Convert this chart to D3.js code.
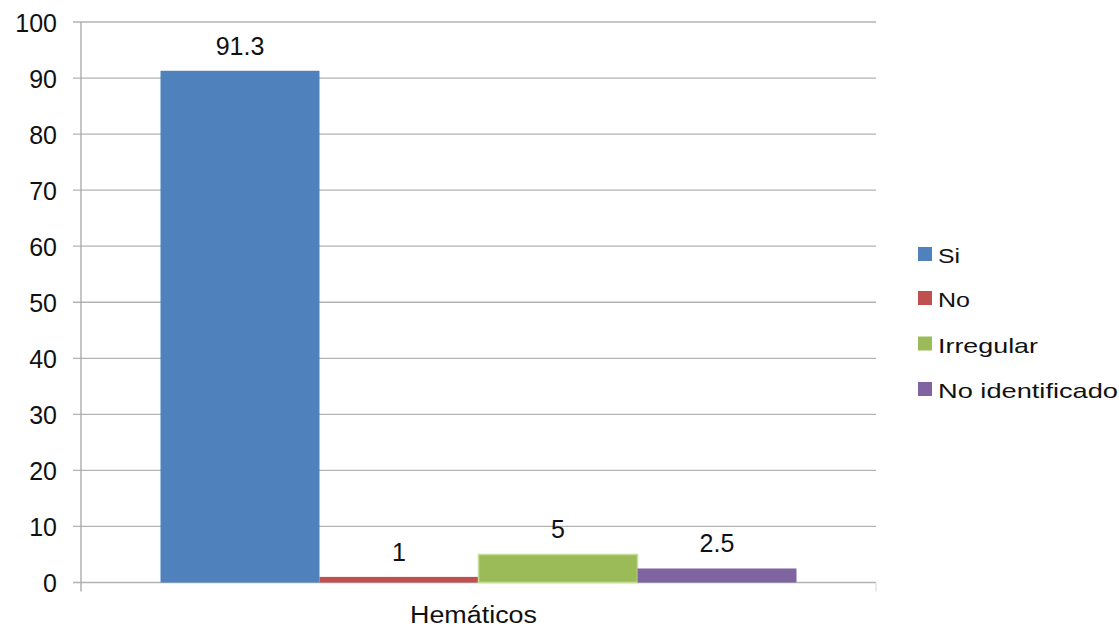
<!DOCTYPE html>
<html>
<head>
<meta charset="utf-8">
<script src="https://cdn.jsdelivr.net/npm/d3@7"></script>
<style>
  html, body { margin: 0; padding: 0; background: #fff; }
  svg { display: block; font-family: "Liberation Sans", Arial, sans-serif; }
</style>
</head>
<body>
<svg id="chart" width="1119" height="627"></svg>
<script>
// Categories and values
const categories = ["Hemáticos"];
const seriesNames = ["Si", "No", "Irregular", "No identificado"];
const seriesValues = [91.3, 1, 5, 2.5];
const valueLabels = ["91.3", "1", "5", "2.5"];
const yTicks = [0, 10, 20, 30, 40, 50, 60, 70, 80, 90, 100];
const seriesColors = ["#4F81BD", "#C0504D", "#9BBB59", "#8064A2"];
const legendWidths = [22, 32, 100, 180];

const svg = d3.select("#chart");

const plot = { left: 81, right: 876, top: 22, bottom: 582.5 };

const y = d3.scaleLinear().domain([0, 100]).range([plot.bottom, plot.top]);
const x0 = d3.scaleBand().domain(categories).range([plot.left, plot.right]).padding(0);
const groupWidth = x0.bandwidth() * 0.8;
const x1 = d3.scaleBand().domain(seriesNames).range([0, groupWidth]).padding(0);
const groupOffset = x0(categories[0]) + x0.bandwidth() * 0.1;

// Horizontal gridlines
svg.append("g")
  .selectAll("line")
  .data(yTicks)
  .join("line")
  .attr("x1", plot.left - 8)
  .attr("x2", plot.right)
  .attr("y1", d => y(d))
  .attr("y2", d => y(d))
  .attr("stroke", "#b3b3b3")
  .attr("stroke-width", 1.3);

// Y axis labels
const yAxis = d3.axisLeft(y).tickValues(yTicks).tickSize(0).tickPadding(0);
const gy = svg.append("g")
  .attr("transform", `translate(${plot.left - 24},0)`)
  .call(yAxis);
gy.select(".domain").remove();
gy.selectAll("text")
  .attr("font-size", 25)
  .attr("dy", null)
  .attr("y", 9)
  .attr("fill", "#111")
  .attr("font-family", "'Liberation Sans', Arial, sans-serif");

// Y axis line
svg.append("line")
  .attr("x1", plot.left).attr("x2", plot.left)
  .attr("y1", plot.top).attr("y2", plot.bottom + 9)
  .attr("stroke", "#a6a6a6").attr("stroke-width", 1.3);

// Category axis tick at right end
svg.append("line")
  .attr("x1", plot.right).attr("x2", plot.right)
  .attr("y1", plot.bottom).attr("y2", plot.bottom + 9)
  .attr("stroke", "#d8d8d8").attr("stroke-width", 1);

// Bars
svg.append("g")
  .selectAll("rect")
  .data(seriesNames.map((name, i) => ({ name, value: seriesValues[i], color: seriesColors[i] })))
  .join("rect")
  .attr("x", d => groupOffset + x1(d.name))
  .attr("width", x1.bandwidth())
  .attr("y", d => y(d.value))
  .attr("height", d => y(0) - y(d.value))
  .attr("fill", d => d.color)
  .attr("stroke", (d, i) => i === 2 ? "#c6dd96" : "none")
  .attr("stroke-width", 1.5);

// Value labels
svg.append("g")
  .selectAll("text")
  .data(seriesNames.map((name, i) => ({ name, value: seriesValues[i], label: valueLabels[i] })))
  .join("text")
  .attr("x", d => groupOffset + x1(d.name) + x1.bandwidth() / 2)
  .attr("y", d => y(d.value) - 16)
  .attr("text-anchor", "middle")
  .attr("font-size", 25)
  .attr("fill", "#111")
  .text(d => d.label);

// Category label
svg.append("text")
  .attr("x", 410)
  .attr("y", 623)
  .attr("font-size", 23)
  .attr("fill", "#111")
  .attr("textLength", 127)
  .attr("lengthAdjust", "spacingAndGlyphs")
  .text(categories[0]);

// Legend
const legend = svg.append("g").attr("transform", "translate(918,0)");
const legendRows = [254, 298, 343.5, 389];
seriesNames.forEach((name, i) => {
  const gRow = legend.append("g").attr("transform", `translate(0,${legendRows[i]})`);
  gRow.append("rect")
    .attr("x", 0).attr("y", -7)
    .attr("width", 14).attr("height", 14)
    .attr("fill", seriesColors[i]);
  gRow.append("text")
    .attr("x", 20).attr("y", 9)
    .attr("font-size", 21)
    .attr("fill", "#111")
    .attr("textLength", legendWidths[i])
    .attr("lengthAdjust", "spacingAndGlyphs")
    .text(name);
});
</script>
</body>
</html>
